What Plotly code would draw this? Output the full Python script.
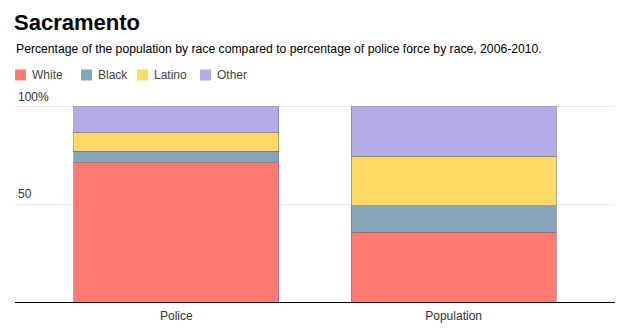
import plotly.graph_objects as go

categories = ["Police", "Population"]
races = ["White", "Black", "Latino", "Other"]
white = [71.4, 35.7]
black = [6.0, 13.7]
latino = [9.4, 25.3]
other = [13.2, 25.3]
colors = ["#ff7b72", "#85a6b8", "#ffd966", "#b3aae6"]
tick_vals = [50, 100]
tick_text = ["50", "100%"]

series = [white, black, latino, other]

W, H = 620, 331
ML, MR, MT, MB = 15, 5, 104, 29
PW, PH = W - ML - MR, H - MT - MB


def px_x(px):
    return (px - ML) / PW


def px_y(py):
    return (H - MB - py) / PH


fig = go.Figure()
for name, vals, col in zip(races, series, colors):
    fig.add_trace(go.Bar(
        x=categories, y=vals, name=name,
        marker=dict(color=col, line=dict(color="rgba(110,110,130,0.55)", width=1)),
        width=0.74, showlegend=False,
    ))

# custom legend (swatch + label), positioned in pixels
legend_x = [15, 81, 137, 200]
shapes = []
annotations = []
for name, col, lx in zip(races, colors, legend_x):
    shapes.append(dict(type="rect", xref="paper", yref="paper",
                       x0=px_x(lx), x1=px_x(lx + 11), y0=px_y(80.5), y1=px_y(69.5),
                       fillcolor=col, line=dict(width=0)))
    annotations.append(dict(text=name, xref="paper", yref="paper",
                            x=px_x(lx + 15), y=px_y(75), xanchor="left", yanchor="middle",
                            showarrow=False, font=dict(size=12, color="#444")))

# y tick labels sitting above their gridlines
for tv, tt in zip(tick_vals, tick_text):
    annotations.append(dict(text=tt, xref="paper", yref="y", x=px_x(16), y=tv,
                            xanchor="left", yanchor="bottom", yshift=1, showarrow=False,
                            font=dict(size=12, color="#333")))

annotations.append(dict(
    text="Percentage of the population by race compared to percentage of police force by race, 2006-2010.",
    xref="paper", yref="paper", x=px_x(14), y=px_y(49), xanchor="left", yanchor="middle",
    showarrow=False, font=dict(size=12.2, color="#000")))

fig.update_layout(
    barmode="stack",
    width=W, height=H,
    margin=dict(l=ML, r=MR, t=MT, b=MB),
    paper_bgcolor="white", plot_bgcolor="white",
    font=dict(family="Liberation Sans, Arial, sans-serif", size=12, color="#333"),
    title=dict(text="<b>Sacramento</b>", x=14 / W, xanchor="left", xref="container",
               y=1 - 22 / H, yanchor="middle", yref="container",
               font=dict(size=22, color="#000")),
    showlegend=False,
    xaxis=dict(range=[-0.582, 1.582], showline=True, linecolor="#000", linewidth=1,
               showgrid=False, ticks="", ticklabelstandoff=3,
               tickfont=dict(size=12, color="#333")),
    yaxis=dict(range=[0, 101.5], tickvals=tick_vals, showticklabels=False,
               showgrid=True, gridcolor="#e8e8e8", gridwidth=1, zeroline=False,
               showline=False, ticks=""),
    shapes=shapes,
    annotations=annotations,
)

fig.write_html("out.html")
